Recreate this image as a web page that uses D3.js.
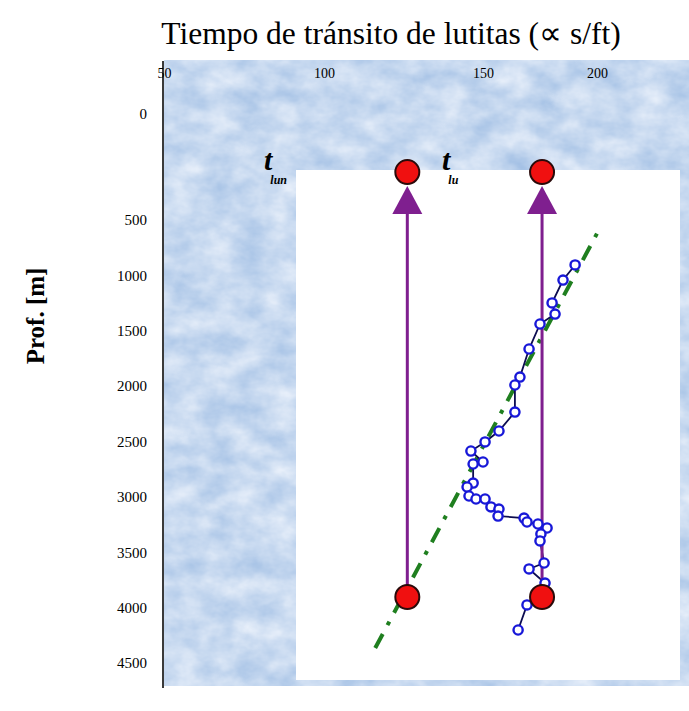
<!DOCTYPE html>
<html>
<head>
<meta charset="utf-8">
<script src="https://cdn.jsdelivr.net/npm/d3@7"></script>
<style>
  html, body { margin: 0; padding: 0; background: #ffffff; }
  svg { display: block; }
</style>
</head>
<body>
<div id="chart"></div>
<script>
// ---- data ----
const xTickValues = [50, 100, 150, 200];
const yTickValues = [0, 500, 1000, 1500, 2000, 2500, 3000, 3500, 4000, 4500];

// shale transit time (µs/ft) and depth (m) of the measured points
const shaleTime = [190.4, 185.1, 180.3, 181.6, 175.0, 170.2, 166.2, 164.0, 164.0, 157.0,
                   150.9, 146.2, 150.0, 146.9, 146.9, 145.0, 145.6, 147.8, 150.9, 153.5,
                   157.0, 156.6, 168.0, 169.3, 174.1, 178.1, 175.4, 175.0, 176.8, 170.2,
                   177.2, 169.3, 165.4];
const shaleDepth = [906, 1042, 1249, 1349, 1439, 1665, 1918, 1990, 2234, 2405,
                    2504, 2586, 2685, 2703, 2875, 2911, 2992, 3019, 3019, 3091,
                    3110, 3173, 3191, 3227, 3245, 3281, 3335, 3398, 3597, 3651,
                    3778, 3976, 4202];

// normal compaction trend (dash-dot line)
const trendTime = [116.1, 201.3];
const trendDepth = [4365, 572];

// vertical reference lines t_lun and t_lu
const refNames = ["lun", "lu"];
const refTime = [126.2, 175.9];
const refTopDepth = [274, 274];
const refBottomDepth = [3904, 3904];

// ---- layout ----
const W = 689, H = 711;
const serif = "Liberation Serif, Times New Roman, serif";
const svg = d3.select("#chart").append("svg").attr("width", W).attr("height", H);

const x = d3.scaleLinear().domain(xTickValues).range([164, 324, 483, 597]);
const y = d3.scaleLinear().domain([0, 500, 4500]).range([114, 220, 663]);

// texture filter
const defs = svg.append("defs");
const f = defs.append("filter").attr("id", "marble")
  .attr("x", 0).attr("y", 0).attr("width", 1).attr("height", 1)
  .attr("color-interpolation-filters", "sRGB");
f.append("feTurbulence").attr("type", "fractalNoise")
  .attr("baseFrequency", "0.03 0.045").attr("numOctaves", 4).attr("seed", 3).attr("result", "n");
f.append("feColorMatrix").attr("type", "matrix")
  .attr("values", "0.32 0 0 0 0.62  0.22 0 0 0 0.74  0.1 0 0 0 0.89  0 0 0 0 1");

// textured plot background
svg.append("rect").attr("x", 164).attr("y", 60).attr("width", W - 164).attr("height", 626)
  .attr("fill", "#d2e3f4").attr("filter", "url(#marble)");

// white inner panel
svg.append("rect").attr("x", 296).attr("y", 170).attr("width", 384).attr("height", 510)
  .attr("fill", "#ffffff");

// left axis line
svg.append("line").attr("x1", 163).attr("x2", 163).attr("y1", 61).attr("y2", 688)
  .attr("stroke", "#3a3a3a").attr("stroke-width", 2);

// axes labels (ticks)
const xAxis = d3.axisTop(x).tickValues(xTickValues).tickFormat(d3.format("d")).tickSize(0).tickPadding(0);
const gx = svg.append("g").attr("transform", "translate(0,78)").call(xAxis);
gx.select(".domain").remove();
gx.selectAll("text").attr("font-family", serif).attr("font-size", 14).attr("fill", "#000");

const yAxis = d3.axisLeft(y).tickValues(yTickValues).tickFormat(d3.format("d")).tickSize(0).tickPadding(0);
const gy = svg.append("g").attr("transform", "translate(147,0)").call(yAxis);
gy.select(".domain").remove();
gy.selectAll("text").attr("font-family", serif).attr("font-size", 15).attr("fill", "#000");

// title
svg.append("text").attr("x", 391).attr("y", 44).attr("text-anchor", "middle")
  .attr("font-family", serif).attr("font-size", 31.5)
  .attr("fill", "#000").text("Tiempo de tránsito de lutitas (∝ s/ft)");

// y title
svg.append("text").attr("transform", "translate(44,316) rotate(-90)").attr("text-anchor", "middle")
  .attr("font-family", serif).attr("font-weight", "bold")
  .attr("font-size", 25).attr("fill", "#000").text("Prof. [m]");

// trend line
const trend = trendTime.map((t, i) => [t, trendDepth[i]]);
svg.append("path").datum(trend)
  .attr("d", d3.line().x(d => x(d[0])).y(d => y(d[1])))
  .attr("fill", "none").attr("stroke", "#1f7f1f").attr("stroke-width", 4)
  .attr("stroke-dasharray", "16,10,4,10");

// measured data line + markers
const pts = shaleTime.map((t, i) => [t, shaleDepth[i]]);
svg.append("path").datum(pts)
  .attr("d", d3.line().x(d => x(d[0])).y(d => y(d[1])))
  .attr("fill", "none").attr("stroke", "#0c0c50").attr("stroke-width", 1.8);

// reference lines, arrows
refTime.forEach((t, i) => {
  const cx = x(t);
  svg.append("line").attr("x1", cx).attr("x2", cx)
    .attr("y1", y(refTopDepth[i]) + 30).attr("y2", y(refBottomDepth[i]))
    .attr("stroke", "#7f1f8f").attr("stroke-width", 3);
  const ty = y(refTopDepth[i]);
  svg.append("path")
    .attr("d", `M${cx},${ty + 14} L${cx + 15},${ty + 42} L${cx - 15},${ty + 42} Z`)
    .attr("fill", "#7f1f8f");
});

svg.selectAll("circle.pt").data(pts).enter().append("circle").attr("class", "pt")
  .attr("cx", d => x(d[0])).attr("cy", d => y(d[1])).attr("r", 4.6)
  .attr("fill", "#ffffff").attr("stroke", "#1818d8").attr("stroke-width", 2.4);

refTime.forEach((t, i) => {
  const cx = x(t);
  [refTopDepth[i], refBottomDepth[i]].forEach(dep => {
    svg.append("circle").attr("cx", cx).attr("cy", y(dep)).attr("r", 12)
      .attr("fill", "#f01010").attr("stroke", "#2a0a0a").attr("stroke-width", 2);
  });
});

// t labels
const labelX = [264, 442];
refNames.forEach((n, i) => {
  const g = svg.append("text").attr("x", labelX[i]).attr("y", 170)
    .attr("font-family", serif)
    .attr("font-style", "italic").attr("font-weight", "bold").attr("fill", "#000");
  g.append("tspan").attr("font-size", 30).text("t");
  g.append("tspan").attr("font-size", 12).attr("dy", 14).attr("dx", -2).text(n);
});
</script>
</body>
</html>
